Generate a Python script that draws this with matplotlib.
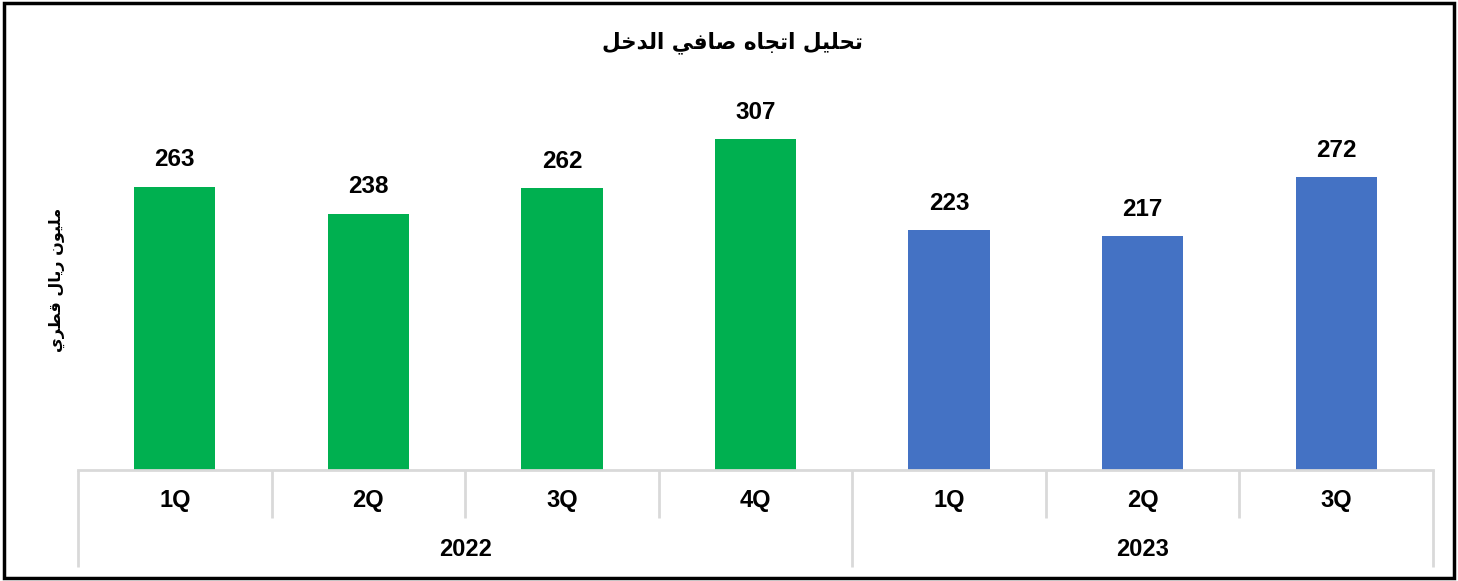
import matplotlib
matplotlib.use("Agg")
import matplotlib.pyplot as plt
import matplotlib.transforms as mtransforms
from matplotlib.patches import Rectangle

# ---------------- data ----------------
quarters = ["1Q", "2Q", "3Q", "4Q", "1Q", "2Q", "3Q"]
years = ["2022", "2023"]
year_counts = [4, 3]
values = [263, 238, 262, 307, 223, 217, 272]
bar_colors = ["#00B050", "#00B050", "#00B050", "#00B050", "#4472C4", "#4472C4", "#4472C4"]
title_text = "تحليل اتجاه صافي الدخل"
ylabel_text = "مليون ريال قطري"

# ---------- minimal Arabic shaping (presentation forms, visual order) ----------
FORMS = {
    'ا': ('\uFE8D', '\uFE8E', None, None),
    'ت': ('\uFE95', '\uFE96', '\uFE97', '\uFE98'),
    'ج': ('\uFE9D', '\uFE9E', '\uFE9F', '\uFEA0'),
    'ح': ('\uFEA1', '\uFEA2', '\uFEA3', '\uFEA4'),
    'خ': ('\uFEA5', '\uFEA6', '\uFEA7', '\uFEA8'),
    'د': ('\uFEA9', '\uFEAA', None, None),
    'ر': ('\uFEAD', '\uFEAE', None, None),
    'ص': ('\uFEB9', '\uFEBA', '\uFEBB', '\uFEBC'),
    'ط': ('\uFEC1', '\uFEC2', '\uFEC3', '\uFEC4'),
    'ف': ('\uFED1', '\uFED2', '\uFED3', '\uFED4'),
    'ق': ('\uFED5', '\uFED6', '\uFED7', '\uFED8'),
    'ل': ('\uFEDD', '\uFEDE', '\uFEDF', '\uFEE0'),
    'م': ('\uFEE1', '\uFEE2', '\uFEE3', '\uFEE4'),
    'ن': ('\uFEE5', '\uFEE6', '\uFEE7', '\uFEE8'),
    'ه': ('\uFEE9', '\uFEEA', '\uFEEB', '\uFEEC'),
    'و': ('\uFEED', '\uFEEE', None, None),
    'ي': ('\uFEF1', '\uFEF2', '\uFEF3', '\uFEF4'),
}
NONJOIN_NEXT = set('ادذرزو')


def shape(s):
    out = []
    for i, c in enumerate(s):
        if c not in FORMS:
            out.append(c)
            continue
        prev = s[i - 1] if i > 0 else None
        nxt = s[i + 1] if i + 1 < len(s) else None
        jp = prev in FORMS and prev not in NONJOIN_NEXT
        jn = nxt in FORMS and c not in NONJOIN_NEXT
        iso, fin, ini, med = FORMS[c]
        if jp and jn:
            out.append(med)
        elif jp:
            out.append(fin)
        elif jn:
            out.append(ini)
        else:
            out.append(iso)
    return ''.join(reversed(out))


plt.rcParams['font.family'] = ['Liberation Sans', 'DejaVu Sans']

W, H = 1458, 581
fig = plt.figure(figsize=(W / 100, H / 100), dpi=100)

# outer border
fig.patches.append(Rectangle((4 / W, 3 / H), (W - 8) / W, (H - 6) / H,
                             transform=fig.transFigure, fill=False,
                             edgecolor="black", linewidth=2.5))

ax_left, ax_right, ax_bottom_px, ax_top_px = 78, 1433, 470, 93
ax = fig.add_axes([ax_left / W, (H - ax_bottom_px) / H,
                   (ax_right - ax_left) / W, (ax_bottom_px - ax_top_px) / H])

x = list(range(len(values)))
ax.bar(x, values, width=0.42, color=bar_colors)
ax.set_xlim(-0.5, len(values) - 0.5)
ax.set_ylim(0, 350)
for sp in ["top", "right", "left"]:
    ax.spines[sp].set_visible(False)
ax.spines["bottom"].set_color("#D9D9D9")
ax.spines["bottom"].set_linewidth(2)
ax.set_yticks([])
ax.set_xticks([])

for xi, v in zip(x, values):
    ax.annotate(f"{v}", (xi, v), xytext=(0, 11), textcoords="offset points",
                ha="center", va="bottom", fontsize=17.5, fontweight="bold")

# category axis: quarter labels, separators, years
trans = mtransforms.blended_transform_factory(ax.transData, fig.transFigure)
q_y = 1 - 500 / H
yr_y = 1 - 549 / H
short_bottom = 1 - 518 / H
long_bottom = 1 - 567 / H
axis_y = 1 - ax_bottom_px / H

for xi, q in zip(x, quarters):
    ax.text(xi, q_y, q, transform=trans, ha="center", va="center",
            fontsize=17, fontweight="bold", clip_on=False)

group_edges = [-0.5]
for c in year_counts:
    group_edges.append(group_edges[-1] + c)

for b in [i - 0.5 for i in range(len(values) + 1)]:
    bottom = long_bottom if b in group_edges else short_bottom
    ax.plot([b, b], [axis_y, bottom], transform=trans, color="#D9D9D9",
            linewidth=2, clip_on=False, solid_capstyle="butt")

for yr, s, e in zip(years, group_edges[:-1], group_edges[1:]):
    ax.text((s + e) / 2, yr_y, yr, transform=trans, ha="center", va="center",
            fontsize=17, fontweight="bold", clip_on=False)

fig.text(733 / W, 1 - 43 / H, shape(title_text), ha="center", va="center",
         fontsize=15.5, fontweight="bold", family=['DejaVu Sans'])
fig.text(57 / W, 1 - 280 / H, shape(ylabel_text), ha="center", va="center",
         rotation=90, fontsize=11.5, fontweight="bold", family=['DejaVu Sans'])

fig.savefig("out.png", dpi=100)
